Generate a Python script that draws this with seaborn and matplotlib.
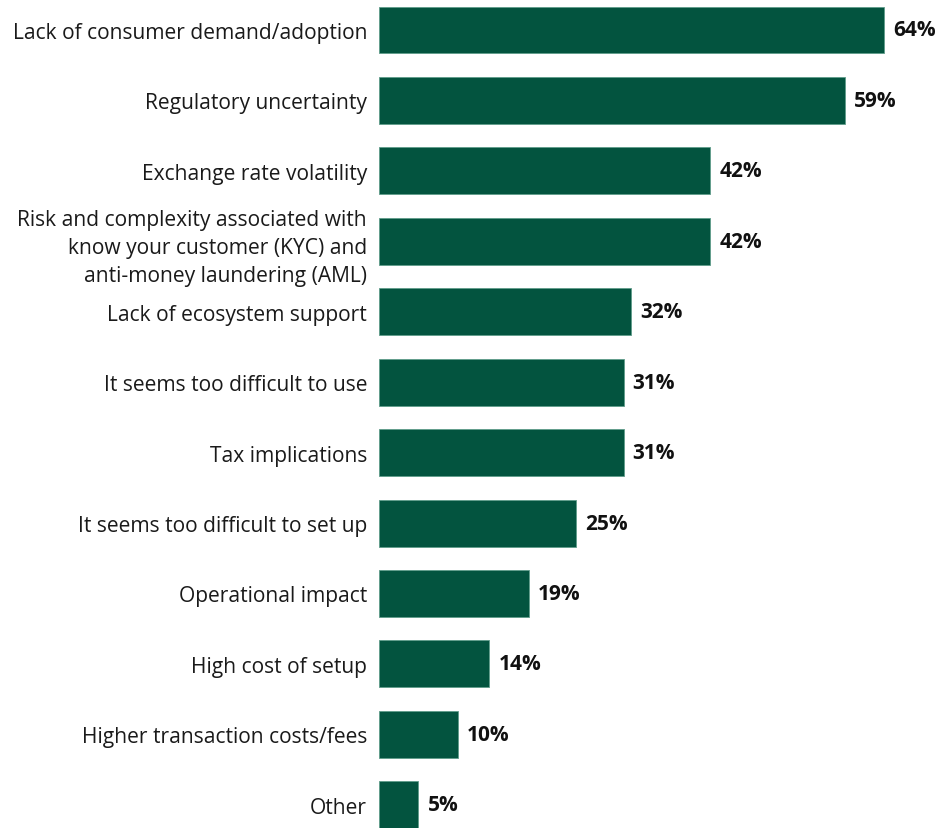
import matplotlib
matplotlib.use("Agg")
import matplotlib.pyplot as plt
import seaborn as sns
import pandas as pd

categories = [
    "Lack of consumer demand/adoption",
    "Regulatory uncertainty",
    "Exchange rate volatility",
    "Risk and complexity associated with\nknow your customer (KYC) and\nanti-money laundering (AML)",
    "Lack of ecosystem support",
    "It seems too difficult to use",
    "Tax implications",
    "It seems too difficult to set up",
    "Operational impact",
    "High cost of setup",
    "Higher transaction costs/fees",
    "Other",
]
values = [64, 59, 42, 42, 32, 31, 31, 25, 19, 14, 10, 5]

df = pd.DataFrame({"reason": categories, "share": values})

sns.set_theme(style="white")
plt.rcParams["font.family"] = ["Open Sans", "DejaVu Sans"]

W, H = 942, 829
fig = plt.figure(figsize=(W / 100, H / 100), dpi=100)
ax = fig.add_axes([379 / W, 0, 1 - 379 / W, 1])

bar_color = "#03543F"
sns.barplot(data=df, x="share", y="reason", orient="h", color=bar_color,
            width=0.667, edgecolor="#5f9c8a", linewidth=0.6, saturation=1, ax=ax)

ax.set_xlim(0, (W - 379) / 7.89)
ax.set_ylim(11.33, -0.44)
ax.set_xlabel("")
ax.set_ylabel("")
ax.set_xticks([])
for s in ax.spines.values():
    s.set_visible(False)
ax.tick_params(axis="y", length=0, pad=8.6)
for lbl in ax.get_yticklabels():
    lbl.set_fontsize(15.1)
    lbl.set_color("#1a1a1a")
    lbl.set_linespacing(1.45)
    lbl.set_horizontalalignment("right")
    lbl.set_multialignment("right")

for i, v in enumerate(values):
    ax.text(v + 1.15, i, f"{v}%", va="center", ha="left", fontsize=15,
            fontweight="bold", color="#111111")

fig.savefig("out.png", dpi=100)
